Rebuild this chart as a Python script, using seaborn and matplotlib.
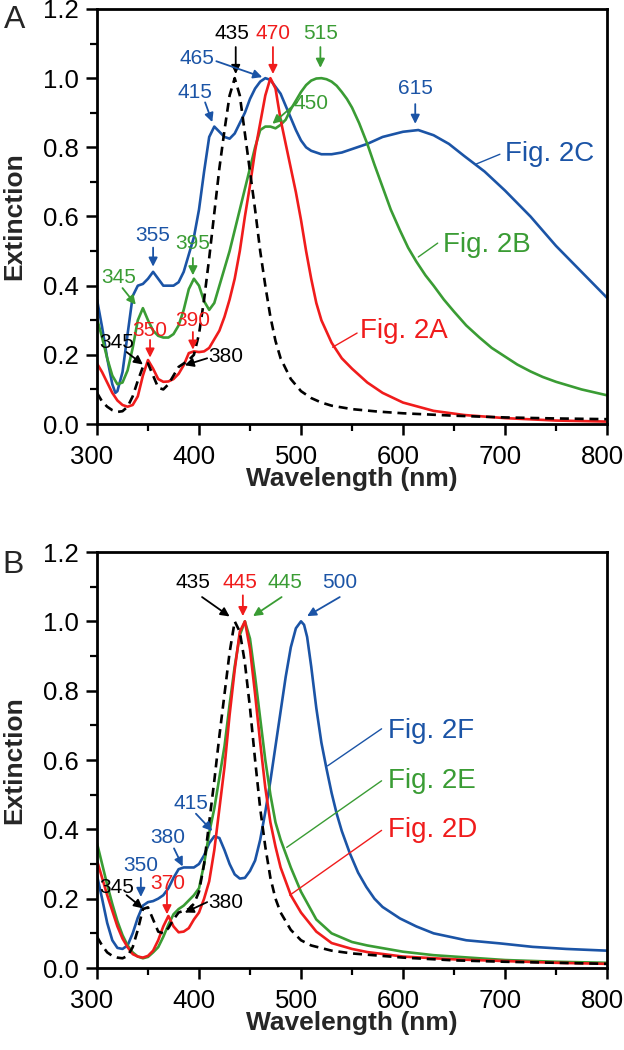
import numpy as np
import pandas as pd
import matplotlib
matplotlib.use("Agg")
import matplotlib.pyplot as plt
import matplotlib.transforms as mtransforms
from matplotlib.ticker import MultipleLocator
import seaborn as sns

# ---------------- data ----------------
# Panel A
A_ref_wl = [300, 305, 310, 315, 320, 325, 330, 335, 340, 345, 350, 355, 360, 365, 370, 375, 380, 385, 390, 395,
            400, 405, 410, 415, 420, 425, 430, 435, 440, 445, 450, 455, 460, 465, 470, 475, 480, 490, 500, 510,
            520, 530, 550, 575, 600, 650, 700, 750, 800]
A_ref_E = [0.09, 0.065, 0.05, 0.04, 0.035, 0.037, 0.05, 0.08, 0.125, 0.165, 0.175, 0.14, 0.105, 0.10, 0.115, 0.14,
           0.165, 0.175, 0.185, 0.20, 0.26, 0.36, 0.48, 0.61, 0.74, 0.85, 0.95, 1.0, 0.95, 0.84, 0.73, 0.62, 0.50,
           0.40, 0.31, 0.24, 0.19, 0.13, 0.095, 0.075, 0.062, 0.053, 0.043, 0.036, 0.031, 0.024, 0.019, 0.016, 0.014]

A_2A_wl = [300, 305, 310, 315, 320, 325, 330, 335, 340, 345, 350, 355, 360, 365, 370, 375, 380, 385, 390, 395,
           400, 405, 410, 415, 420, 425, 430, 435, 440, 445, 450, 455, 460, 465, 470, 475, 480, 485, 490, 495,
           500, 505, 510, 515, 520, 530, 540, 550, 565, 580, 600, 630, 660, 700, 750, 800]
A_2A_E = [0.175, 0.15, 0.12, 0.09, 0.068, 0.055, 0.05, 0.055, 0.08, 0.14, 0.185, 0.16, 0.13, 0.122, 0.123, 0.13,
          0.145, 0.17, 0.205, 0.21, 0.208, 0.21, 0.22, 0.245, 0.27, 0.31, 0.36, 0.42, 0.50, 0.60, 0.69, 0.79, 0.87,
          0.95, 1.0, 0.97, 0.88, 0.81, 0.74, 0.67, 0.59, 0.50, 0.42, 0.35, 0.30, 0.235, 0.19, 0.16, 0.12, 0.09,
          0.062, 0.038, 0.026, 0.017, 0.010, 0.007]

A_2B_wl = [300, 305, 310, 315, 320, 325, 330, 335, 340, 345, 350, 355, 360, 365, 370, 375, 380, 385, 390, 395,
           400, 405, 410, 415, 420, 425, 430, 435, 440, 445, 450, 455, 460, 465, 470, 475, 480, 485, 490, 495,
           500, 505, 510, 515, 520, 525, 530, 535, 540, 545, 550, 557, 565, 572, 580, 588, 597, 605, 613, 622,
           630, 640, 650, 662, 675, 687, 700, 712, 725, 737, 750, 775, 800]
A_2B_E = [0.305, 0.25, 0.19, 0.14, 0.115, 0.12, 0.155, 0.22, 0.30, 0.335, 0.30, 0.27, 0.255, 0.25, 0.25, 0.26,
          0.285, 0.33, 0.39, 0.42, 0.40, 0.355, 0.33, 0.35, 0.40, 0.45, 0.50, 0.56, 0.62, 0.68, 0.74, 0.80, 0.85,
          0.86, 0.86, 0.855, 0.865, 0.88, 0.91, 0.935, 0.96, 0.98, 0.993, 0.999, 1.0, 0.997, 0.99, 0.978, 0.96,
          0.94, 0.915, 0.87, 0.81, 0.75, 0.685, 0.62, 0.56, 0.51, 0.47, 0.43, 0.40, 0.36, 0.325, 0.285, 0.25,
          0.22, 0.195, 0.172, 0.152, 0.136, 0.122, 0.10, 0.083]

A_2C_wl = [300, 305, 310, 315, 318, 320, 325, 330, 335, 340, 345, 350, 355, 360, 365, 370, 375, 380, 385, 390,
           395, 400, 405, 410, 415, 420, 425, 430, 435, 440, 445, 450, 455, 460, 465, 470, 475, 480, 485, 490,
           495, 500, 505, 510, 520, 530, 540, 550, 565, 580, 600, 615, 630, 645, 660, 680, 700, 725, 750, 775, 800]
A_2C_E = [0.36, 0.28, 0.19, 0.115, 0.09, 0.095, 0.15, 0.26, 0.37, 0.40, 0.405, 0.42, 0.44, 0.42, 0.40, 0.40,
          0.40, 0.41, 0.44, 0.49, 0.54, 0.62, 0.73, 0.83, 0.86, 0.845, 0.83, 0.825, 0.84, 0.87, 0.90, 0.94, 0.97,
          0.99, 1.0, 0.995, 0.975, 0.955, 0.92, 0.885, 0.85, 0.82, 0.80, 0.79, 0.78, 0.78, 0.785, 0.795, 0.81,
          0.83, 0.845, 0.85, 0.835, 0.81, 0.775, 0.73, 0.675, 0.60, 0.515, 0.44, 0.365]

# Panel B
B_ref_wl = [300, 305, 310, 315, 320, 325, 330, 335, 340, 345, 350, 355, 360, 365, 370, 375, 380, 385, 390, 395,
            400, 405, 410, 415, 420, 425, 430, 435, 440, 445, 450, 455, 460, 465, 470, 475, 480, 490, 500, 510,
            530, 550, 600, 650, 700, 750, 800]
B_ref_E = [0.09, 0.065, 0.045, 0.035, 0.03, 0.028, 0.035, 0.06, 0.11, 0.17, 0.175, 0.14, 0.105, 0.10, 0.115,
           0.14, 0.16, 0.165, 0.17, 0.185, 0.22, 0.30, 0.42, 0.54, 0.67, 0.79, 0.91, 1.0, 0.97, 0.88, 0.75, 0.60,
           0.46, 0.35, 0.26, 0.20, 0.16, 0.11, 0.08, 0.065, 0.05, 0.042, 0.03, 0.022, 0.018, 0.015, 0.012]

B_2D_wl = [300, 305, 310, 315, 320, 325, 330, 335, 340, 345, 350, 355, 360, 365, 370, 375, 380, 385, 390, 395,
           400, 405, 410, 415, 420, 425, 430, 435, 440, 445, 450, 455, 460, 465, 470, 475, 480, 490, 500, 515,
           530, 550, 565, 600, 650, 700, 750, 800]
B_2D_E = [0.31, 0.26, 0.21, 0.165, 0.12, 0.085, 0.06, 0.04, 0.033, 0.03, 0.035, 0.05, 0.08, 0.12, 0.15, 0.12,
          0.103, 0.105, 0.115, 0.14, 0.16, 0.20, 0.25, 0.34, 0.46, 0.58, 0.73, 0.86, 0.97, 1.0, 0.92, 0.79, 0.65,
          0.52, 0.42, 0.35, 0.29, 0.21, 0.16, 0.105, 0.072, 0.055, 0.046, 0.033, 0.025, 0.02, 0.015, 0.012]

B_2E_wl = [300, 305, 310, 315, 320, 325, 330, 335, 340, 345, 350, 355, 360, 365, 370, 375, 380, 385, 390, 395,
           400, 405, 410, 415, 420, 425, 430, 435, 440, 445, 450, 455, 460, 465, 470, 475, 480, 485, 490, 500,
           515, 530, 550, 565, 600, 630, 700, 750, 800]
B_2E_E = [0.36, 0.30, 0.24, 0.185, 0.135, 0.095, 0.065, 0.045, 0.033, 0.028, 0.032, 0.045, 0.06, 0.09, 0.125,
          0.155, 0.17, 0.18, 0.195, 0.21, 0.23, 0.30, 0.39, 0.46, 0.55, 0.64, 0.76, 0.87, 0.96, 1.0, 0.95, 0.84,
          0.72, 0.60, 0.50, 0.42, 0.37, 0.33, 0.29, 0.22, 0.14, 0.10, 0.075, 0.065, 0.047, 0.037, 0.023, 0.018,
          0.015]

B_2F_wl = [300, 305, 310, 315, 320, 325, 330, 335, 340, 345, 350, 355, 360, 365, 370, 375, 380, 385, 390, 395,
           400, 405, 410, 415, 420, 425, 430, 435, 440, 445, 450, 455, 460, 465, 470, 475, 480, 485, 490, 495,
           500, 503, 506, 510, 515, 520, 525, 530, 535, 540, 548, 556, 564, 572, 580, 597, 613, 630, 662, 695,
           727, 760, 800]
B_2F_E = [0.267, 0.20, 0.13, 0.08, 0.058, 0.055, 0.065, 0.10, 0.145, 0.18, 0.19, 0.193, 0.20, 0.21, 0.23, 0.26,
          0.285, 0.29, 0.29, 0.29, 0.30, 0.325, 0.36, 0.38, 0.375, 0.34, 0.30, 0.27, 0.258, 0.26, 0.28, 0.31,
          0.37, 0.45, 0.54, 0.64, 0.74, 0.84, 0.925, 0.98, 1.0, 0.99, 0.955, 0.87, 0.75, 0.65, 0.575, 0.505,
          0.445, 0.395, 0.33, 0.275, 0.234, 0.2, 0.176, 0.143, 0.12, 0.10, 0.08, 0.071, 0.061, 0.055, 0.05]

x_ticks = [300, 400, 500, 600, 700, 800]
y_ticks = [0.0, 0.2, 0.4, 0.6, 0.8, 1.0, 1.2]
x_label = "Wavelength (nm)"
y_label = "Extinction"

# ---------------- style ----------------
sns.set_theme(style="ticks")
plt.rcParams["font.family"] = ["Liberation Sans", "DejaVu Sans"]

BLUE = "#1b54a6"
GREEN = "#3a9c34"
RED = "#f01c1c"
BLACK = "#000000"
DASH = (0, (3.4, 2.2))

fig = plt.figure(figsize=(6.24, 10.5), dpi=100)
axA = fig.add_axes([97 / 624, 1 - 424 / 1050, 510 / 624, 415 / 1050])
axB = fig.add_axes([97 / 624, 1 - 968 / 1050, 510 / 624, 416 / 1050])


def draw_series(ax, wl, E, color, ls="-"):
    df = pd.DataFrame({"wl": wl, "E": E})
    sns.lineplot(data=df, x="wl", y="E", ax=ax, color=color, linestyle=ls, lw=1.9, sort=True)


def style_axes(ax):
    ax.set_xlim(300, 800)
    ax.set_ylim(0, 1.2)
    ax.set_xticks(x_ticks)
    ax.set_yticks(y_ticks)
    ax.set_yticklabels([f"{v:.1f}" for v in y_ticks])
    ax.xaxis.set_minor_locator(MultipleLocator(50))
    ax.yaxis.set_minor_locator(MultipleLocator(0.1))
    ax.tick_params(which="major", direction="out", length=8, width=1.8, labelsize=18.5, color="black",
                   labelcolor="black")
    ax.tick_params(axis="x", which="major", pad=7)
    ax.tick_params(axis="y", which="major", pad=5)
    ax.tick_params(which="minor", direction="out", length=5, width=1.6, color="black")
    for s in ax.spines.values():
        s.set_visible(True)
        s.set_linewidth(2.0)
        s.set_color("black")
    ax.set_xlabel(x_label, fontsize=19, fontweight="bold", labelpad=-1)
    ax.set_ylabel(y_label, fontsize=19, fontweight="bold", labelpad=12)
    ax.set_facecolor("white")
    shift = mtransforms.ScaledTranslation(-5 / 100, 0, fig.dpi_scale_trans)
    for lab in ax.get_xticklabels():
        lab.set_transform(lab.get_transform() + shift)


def num(ax, txt, color, tpos, start, end, fs=15):
    ax.text(tpos[0], tpos[1], txt, color=color, fontsize=fs, ha="center", va="center")
    ax.annotate("", xy=end, xytext=start,
                arrowprops=dict(arrowstyle="-|>", color=color, lw=1.3, mutation_scale=13,
                                shrinkA=0, shrinkB=0))


def lead(ax, txt, color, tpos, start, end, fs=20):
    ax.text(tpos[0], tpos[1], txt, color=color, fontsize=fs, ha="left", va="center")
    ax.annotate("", xy=end, xytext=start,
                arrowprops=dict(arrowstyle="-", color=color, lw=1.0, shrinkA=0, shrinkB=0))


# ---------------- panel A ----------------
draw_series(axA, A_2C_wl, A_2C_E, BLUE)
draw_series(axA, A_2B_wl, A_2B_E, GREEN)
draw_series(axA, A_2A_wl, A_2A_E, RED)
draw_series(axA, A_ref_wl, A_ref_E, BLACK, DASH)
style_axes(axA)

num(axA, "435", BLACK, (432, 1.13), (436, 1.09), (436, 1.012))
num(axA, "470", RED, (472.5, 1.13), (472.5, 1.09), (472.5, 1.012))
num(axA, "515", GREEN, (519, 1.13), (519, 1.09), (519, 1.03))
num(axA, "465", BLUE, (398, 1.058), (417, 1.049), (462, 1.003))
num(axA, "415", BLUE, (396, 0.96), (406, 0.93), (413, 0.873))
num(axA, "450", GREEN, (510, 0.928), (496, 0.93), (472, 0.868))
num(axA, "615", BLUE, (612, 0.97), (612, 0.925), (612, 0.868))
num(axA, "355", BLUE, (355, 0.546), (355, 0.51), (355, 0.455))
num(axA, "395", GREEN, (394, 0.523), (394, 0.48), (394, 0.43))
num(axA, "345", GREEN, (321, 0.425), (325, 0.393), (338, 0.345))
num(axA, "350", RED, (352, 0.27), (352, 0.243), (352, 0.192))
num(axA, "390", RED, (394, 0.30), (394, 0.266), (394, 0.215))
num(axA, "345", BLACK, (319.5, 0.237), (329, 0.208), (345, 0.172))
num(axA, "380", BLACK, (426, 0.194), (408, 0.19), (386, 0.17))

lead(axA, "Fig. 2C", BLUE, (700, 0.78), (695, 0.78), (672, 0.752))
lead(axA, "Fig. 2B", GREEN, (639, 0.517), (634, 0.523), (615, 0.483))
lead(axA, "Fig. 2A", RED, (558, 0.27), (555, 0.263), (531, 0.222))

# ---------------- panel B ----------------
draw_series(axB, B_2F_wl, B_2F_E, BLUE)
draw_series(axB, B_2E_wl, B_2E_E, GREEN)
draw_series(axB, B_2D_wl, B_2D_E, RED)
draw_series(axB, B_ref_wl, B_ref_E, BLACK, DASH)
style_axes(axB)

num(axB, "435", BLACK, (394, 1.112), (403, 1.07), (430, 1.014))
num(axB, "445", RED, (440, 1.112), (443, 1.075), (443, 1.015))
num(axB, "445", GREEN, (484, 1.112), (481, 1.07), (453, 1.015))
num(axB, "500", BLUE, (538, 1.112), (538, 1.07), (506, 1.015))
num(axB, "415", BLUE, (392, 0.474), (397, 0.445), (413, 0.395))
num(axB, "380", BLUE, (369, 0.376), (375.5, 0.345), (384, 0.293))
num(axB, "350", BLUE, (343, 0.296), (343, 0.26), (343, 0.205))
num(axB, "370", RED, (369, 0.244), (368.6, 0.224), (368.6, 0.155))
num(axB, "345", BLACK, (319.5, 0.233), (329, 0.21), (345, 0.172))
num(axB, "380", BLACK, (426, 0.19), (408, 0.19), (386, 0.16))

lead(axB, "Fig. 2F", BLUE, (585, 0.684), (579, 0.69), (526, 0.583))
lead(axB, "Fig. 2E", GREEN, (585, 0.54), (579, 0.54), (486, 0.348))
lead(axB, "Fig. 2D", RED, (585, 0.397), (579, 0.397), (489, 0.21))

fig.text(15 / 624, 1 - 20 / 1050, "A", fontsize=23, ha="center", va="center")
fig.text(13 / 624, 1 - 565 / 1050, "B", fontsize=23, ha="center", va="center")

fig.savefig("out.png", dpi=100, facecolor="white")
